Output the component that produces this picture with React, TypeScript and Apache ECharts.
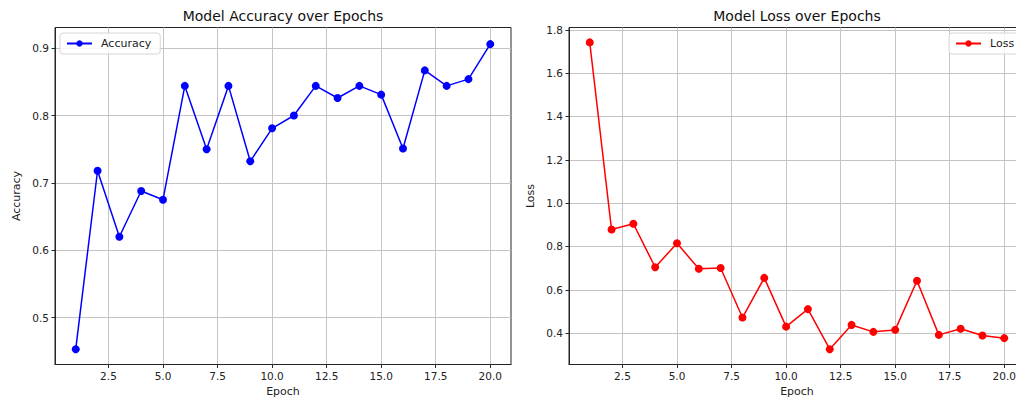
import React, { useEffect, useRef } from "react";
import * as echarts from "echarts";

const epochs = [1, 2, 3, 4, 5, 6, 7, 8, 9, 10, 11, 12, 13, 14, 15, 16, 17, 18, 19, 20];
const accuracy = [0.453, 0.718, 0.62, 0.688, 0.675, 0.844, 0.75, 0.844, 0.732, 0.781, 0.8, 0.844, 0.826, 0.844, 0.831, 0.751, 0.867, 0.844, 0.854, 0.906];
const loss = [1.742, 0.878, 0.905, 0.704, 0.815, 0.697, 0.701, 0.472, 0.655, 0.43, 0.511, 0.326, 0.438, 0.406, 0.415, 0.642, 0.392, 0.42, 0.389, 0.377];
const xTicks = [2.5, 5, 7.5, 10, 12.5, 15, 17.5, 20];
const accTicks = [0.5, 0.6, 0.7, 0.8, 0.9];
const lossTicks = [0.4, 0.6, 0.8, 1.0, 1.2, 1.4, 1.6, 1.8];

const FONT = "DejaVu Sans";
const SPINE = "#262626";
const GRIDC = "#c4c4c4";

function xAxisFor(gridIndex: number) {
  return {
    type: "value",
    gridIndex,
    min: 0.05,
    max: 20.95,
    name: "Epoch",
    nameLocation: "middle",
    nameGap: 21,
    nameTextStyle: { fontFamily: FONT, fontSize: 11, color: "#222" },
    axisLine: { show: true, lineStyle: { color: SPINE, width: 1 } },
    axisTick: { show: true, length: 3.5, lineStyle: { color: SPINE }, customValues: xTicks },
    axisLabel: {
      customValues: xTicks,
      formatter: (v: number) => v.toFixed(1),
      fontFamily: FONT,
      fontSize: 10.5,
      color: "#222",
      margin: 6,
    },
    splitLine: { show: true, lineStyle: { color: GRIDC, width: 1 } },
  };
}

function yAxisFor(gridIndex: number, min: number, max: number, ticks: number[], name: string, gap: number) {
  return {
    type: "value",
    gridIndex,
    min,
    max,
    name,
    nameLocation: "middle",
    nameGap: gap,
    nameTextStyle: { fontFamily: FONT, fontSize: 11, color: "#222" },
    axisLine: { show: true, lineStyle: { color: SPINE, width: 1 } },
    axisTick: { show: true, length: 3.5, lineStyle: { color: SPINE }, customValues: ticks },
    axisLabel: {
      customValues: ticks,
      formatter: (v: number) => v.toFixed(1),
      fontFamily: FONT,
      fontSize: 10.5,
      color: "#222",
      margin: 6,
    },
    splitLine: { show: true, lineStyle: { color: GRIDC, width: 1 } },
  };
}

export default function App() {
  const ref = useRef<HTMLDivElement>(null);
  useEffect(() => {
    document.body.style.margin = "0";
    const chart = echarts.init(ref.current!, undefined, { renderer: "svg" });
    const legendCommon = {
      orient: "vertical",
      itemWidth: 25,
      itemHeight: 8,
      padding: [5, 9, 5, 6],
      borderColor: "#d6d6d6",
      borderWidth: 1,
      borderRadius: 3,
      backgroundColor: "rgba(255,255,255,0.85)",
      textStyle: { fontFamily: FONT, fontSize: 11, color: "#222", padding: [0, 0, 0, 4] },
    };
    chart.setOption({
      animation: false,
      backgroundColor: "#ffffff",
      grid: [
        { left: 55, top: 27.5, width: 456, height: 337, show: true, borderColor: SPINE, borderWidth: 1, backgroundColor: "transparent" },
        { left: 569, top: 27.5, width: 456, height: 337, show: true, borderColor: SPINE, borderWidth: 1, backgroundColor: "transparent" },
      ],
      graphic: [
        { type: "text", x: 283, y: 15.5, style: { text: "Model Accuracy over Epochs", font: `14px "${FONT}"`, fill: "#111", textAlign: "center", textVerticalAlign: "middle" } },
        { type: "text", x: 797, y: 15.5, style: { text: "Model Loss over Epochs", font: `14px "${FONT}"`, fill: "#111", textAlign: "center", textVerticalAlign: "middle" } },
      ],
      legend: [
        { ...legendCommon, left: 60, top: 33, data: ["Accuracy"] },
        { ...legendCommon, left: 949, top: 33, data: ["Loss"] },
      ],
      xAxis: [xAxisFor(0), xAxisFor(1)],
      yAxis: [
        yAxisFor(0, 0.4303, 0.9307, accTicks, "Accuracy", 33),
        yAxisFor(1, 0.2553, 1.8107, lossTicks, "Loss", 33),
      ],
      series: [
        {
          name: "Accuracy",
          type: "line",
          xAxisIndex: 0,
          yAxisIndex: 0,
          data: epochs.map((e, i) => [e, accuracy[i]]),
          symbol: "circle",
          symbolSize: 8,
          itemStyle: { color: "#0000ff" },
          lineStyle: { color: "#0000ff", width: 1.5 },
        },
        {
          name: "Loss",
          type: "line",
          xAxisIndex: 1,
          yAxisIndex: 1,
          data: epochs.map((e, i) => [e, loss[i]]),
          symbol: "circle",
          symbolSize: 8,
          itemStyle: { color: "#ff0000" },
          lineStyle: { color: "#ff0000", width: 1.5 },
        },
      ],
    });
    return () => chart.dispose();
  }, []);
  return (
    <div style={{ width: 1016, height: 403, overflow: "hidden", position: "relative" }}>
      <div ref={ref} style={{ width: 1040, height: 403, position: "absolute", left: 0, top: 0 }} />
    </div>
  );
}
